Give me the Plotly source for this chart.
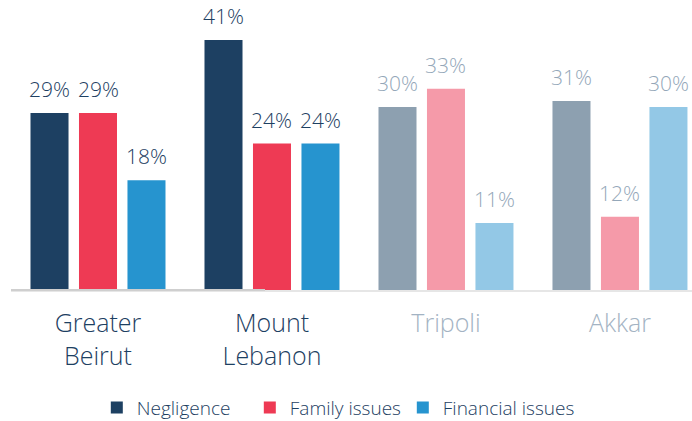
import plotly.graph_objects as go

regions = ["Greater<br>Beirut", "Mount<br>Lebanon", "Tripoli", "Akkar"]
highlight = [True, True, False, False]
series = ["Negligence", "Family issues", "Financial issues"]
negligence = [29, 41, 30, 31]
family = [29, 24, 33, 12]
financial = [18, 24, 11, 30]
values = [negligence, family, financial]

strong = ["#1d4062", "#ee3a54", "#2694cf"]
faded = ["#8da0b0", "#f59aa9", "#93c8e6"]
label_strong = "#1d4062"
label_faded = "#94a7b9"

FONT = "Open Sans"
fig = go.Figure()
cats = list(range(len(regions)))
for i, name in enumerate(series):
    cols = [strong[i] if h else faded[i] for h in highlight]
    fig.add_trace(go.Bar(
        name=name, x=cats, y=values[i],
        marker=dict(color=cols, line=dict(width=0)),
        legendwidth=108 if i < len(series) - 1 else 150,
    ))

# value labels
slot_px = 48.5
for i, vals in enumerate(values):
    for j, v in enumerate(vals):
        fig.add_annotation(
            x=cats[j], y=v, xref="x", yref="y",
            text=f"{v}%", showarrow=False,
            xshift=(i - 1) * slot_px, yshift=8, yanchor="bottom",
            font=dict(family=FONT, size=21, weight=300,
                      color=label_strong if highlight[j] else label_faded),
        )

ticktext = [f"<span style='color:{label_strong if h else '#a3b3c3'}'>{r}</span>"
            for r, h in zip(regions, highlight)]

fig.update_layout(
    width=692, height=421,
    margin=dict(l=11, r=0, t=10, b=131, autoexpand=False),
    paper_bgcolor="white", plot_bgcolor="white",
    barmode="group", bargap=0.164, bargroupgap=0.216,
    font=dict(family=FONT, weight=300, color=label_strong),
    xaxis=dict(
        tickmode="array", tickvals=cats, ticktext=ticktext,
        range=[-0.5, 3.414], showgrid=False, zeroline=False,
        showline=True, linecolor="#e6e6e6", linewidth=2,
        ticks="", tickfont=dict(family=FONT, size=25, weight=300),
        ticklabelstandoff=10, fixedrange=True, automargin=False,
    ),
    yaxis=dict(range=[0, 45.9], visible=False, fixedrange=True),
    legend=dict(
        orientation="h", x=0.126, xanchor="left", y=-0.42, yanchor="middle",
        font=dict(family=FONT, size=19, weight=300, color=label_strong),
        itemwidth=30, traceorder="normal",
    ),
    shapes=[dict(type="line", xref="paper", yref="paper", x0=0, x1=0.373, y0=0, y1=0,
                 line=dict(color="#cfcfcf", width=2), layer="above")],
)

fig.write_html(
    "out.html",
    config={"displayModeBar": False},
    post_script="document.body.style.margin='0';document.body.style.overflow='hidden';",
)
